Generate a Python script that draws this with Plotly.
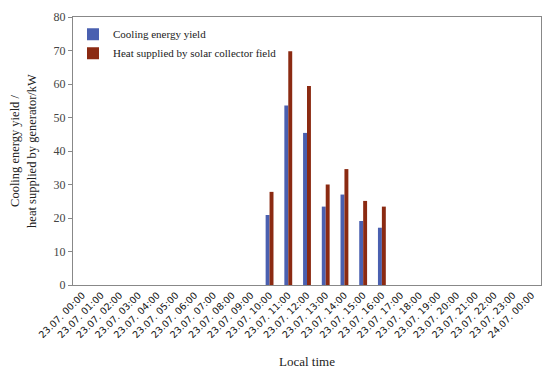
import plotly.graph_objects as go

hours = [f"23.07. {h:02d}:00" for h in range(24)] + ["24.07. 00:00"]
cooling = [0]*10 + [20.9, 53.6, 45.4, 23.4, 27.0, 19.1, 17.1] + [0]*8
heat = [0]*10 + [27.8, 69.8, 59.4, 30.0, 34.6, 25.1, 23.4] + [0]*8

fig = go.Figure()
fig.add_trace(go.Bar(x=hours, y=cooling, name="Cooling energy yield",
                     marker=dict(color="#4a60b0", line=dict(width=0))))
fig.add_trace(go.Bar(x=hours, y=heat, name="Heat supplied by solar collector field",
                     marker=dict(color="#8b2a12", line=dict(width=0))))

# page body has an 8px margin, so the figure is kept a bit smaller
fig.update_layout(
    width=534, height=361,
    margin=dict(l=65, r=1, t=9, b=84),
    plot_bgcolor="white", paper_bgcolor="white",
    barmode="group", bargap=0.58, bargroupgap=0,
    font=dict(family="Liberation Serif", size=11, color="#222"),
    legend=dict(x=0.0, y=0.99, xanchor="left", yanchor="top",
                bgcolor="rgba(0,0,0,0)", font=dict(size=11),
                itemwidth=30, tracegroupgap=2),
    showlegend=True,
)
fig.update_xaxes(
    type="category", tickangle=-45, showline=True, linecolor="#888", mirror=True,
    ticks="", showgrid=False, automargin=False,
    tickfont=dict(family="DejaVu Sans", size=9.5, color="#111"),
    title=dict(text="Local time", font=dict(size=13), standoff=18),
)
fig.update_yaxes(
    range=[0, 80], dtick=10, showline=True, linecolor="#888", mirror=True,
    ticks="outside", ticklen=4, tickcolor="#888", showgrid=False, zeroline=False,
    automargin=False,
    tickfont=dict(size=12, color="#444"),
    title=dict(text="Cooling energy yield /<br>heat supplied by generator/kW",
               font=dict(size=12.5), standoff=14),
)

fig.write_html("out.html")
